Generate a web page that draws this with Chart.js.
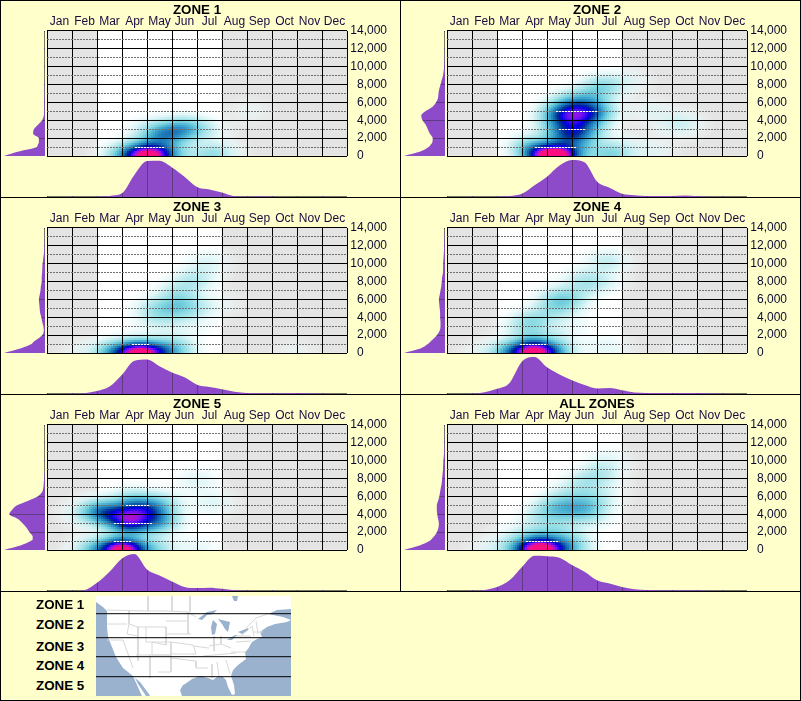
<!DOCTYPE html>
<html>
<head>
<meta charset="utf-8">
<title>Zones</title>
<script src="https://cdn.jsdelivr.net/npm/chart.js@4"></script>
<style>
html, body { margin: 0; padding: 0; background: #FFFFCC; overflow: hidden; }
#page { position: relative; width: 801px; height: 701px; background: #FFFFCC; font-family: "Liberation Sans", Arial, sans-serif; }
canvas { position: absolute; }
.line { position: absolute; background: #000; }
.zonename { position: absolute; left: 36px; font-weight: bold; font-size: 13.33px; line-height: 16px; color: #000; }
</style>
</head>
<body>
<div id="page"></div>
<script>
const months = ["Jan","Feb","Mar","Apr","May","Jun","Jul","Aug","Sep","Oct","Nov","Dec"];
const seasonGray = [14000,14000,null,null,null,null,null,14000,14000,14000,14000,14000];
const seasonWhite = [null,null,14000,14000,14000,14000,14000,null,null,null,null,null];
const zoneTitles = ["ZONE 1","ZONE 2","ZONE 3","ZONE 4","ZONE 5","ALL ZONES"];
const mapLabels = ["ZONE 1","ZONE 2","ZONE 3","ZONE 4","ZONE 5"];

/*------------- sightings: [month, elevation, weight] -------------*/
const samplesZone1 = [[4.05,0,.88],[3.3,0,.25],[4.8,0,.25],[3.0,0,.1],[4.6,2400,.33],[5.4,3000,.32],[6.2,3000,.1],[6.5,0,.18],[3.8,1200,.08],[5.0,1000,.08],[4.7,7000,.02],[8.1,5000,.03],[4,3200,.05],[7,600,.05]];
const samplesZone2 = [[3.9,0,.75],[4.6,0,.75],[5.2,4500,.36],[4.5,4500,.28],[4.6,5000,.13],[5.8,4800,.26],[6,5200,.12],[5.1,2800,.3],[4.4,3000,.15],[5.7,3000,.15],[4.8,2000,.22],[5,6000,.22],[5.7,6500,.15],[6.2,7800,.2],[7.2,8500,.05],[6.5,0,.22],[5.5,1200,.12],[8.2,5000,.05],[9.3,3600,.1],[8.2,500,.05],[3.3,1000,.2],[7,1000,.06]];
const samplesZone3 = [[3.7,0,.88],[2.8,0,.4],[4.5,0,.35],[5.2,300,.15],[1.6,0,.05],[4.7,4800,.1],[5.3,5200,.12],[5.2,6200,.08],[4.2,5000,.08],[5.9,5000,.09],[5.2,7000,.07],[6,8500,.06],[5,3800,.05],[6.4,10200,.07],[5.8,8000,.08],[6.9,5500,.03],[4.2,3500,.05],[9.9,0,.03],[6,3000,.03],[5,1400,.06]];
const samplesZone4 = [[3.45,0,.8],[2.6,0,.35],[4.2,0,.35],[3.4,1200,.15],[3.4,3400,.16],[4.5,5500,.15],[4.9,6200,.12],[5.6,7700,.1],[6.4,10300,.11],[5.9,1000,.02],[6.5,500,.05],[1.5,0,.05],[4.5,1800,.06],[9.5,200,.02],[3,3000,.06],[4,4600,.08],[5,3500,.04],[4.3,6500,.05],[5.4,8500,.06],[6.3,8000,.05]];
const samplesZone5 = [[2.9,0,.87],[3.5,0,.3],[1.9,0,.25],[4.4,100,.15],[3.3,4400,.26],[2.3,4200,.34],[4,4500,.34],[3.4,3000,.46],[2.9,3400,.24],[4.4,3000,.22],[3.4,5700,.15],[4.6,5300,.14],[6,7800,.07],[6.6,5300,.07],[1.5,4000,.08],[6,300,.05],[4.6,3600,.12],[2,4600,.1]];
const samplesAll = [[3.7,0,.83],[3,0,.3],[4.5,0,.35],[5.3,0,.05],[3.7,1200,.15],[1.7,0,.05],[5.3,4500,.2],[4.6,4700,.13],[4.5,3000,.07],[5.6,6000,.09],[5.9,8000,.08],[6.4,10200,.05],[3.5,2700,.06],[6.5,6500,.03],[3.8,4000,.08],[4.7,6000,.08],[5.3,7500,.08],[6.2,8800,.08],[5.8,3500,.06],[4.5,1800,.08],[4.2,4800,.1],[5.9,5000,.1],[5,1000,.1],[2.6,1500,.05]];

/*------------- density by elevation (left strip) -------------*/
const elevations = [0,500,1000,1200,1500,2000,2500,3000,3500,4000,4500,5000,5500,6000,6500,7000,7500,8000,8500,9000,10000,11000,12000,14000];
const elevZone1 = [1,.64,.2,.18,.15,.15,.29,.27,.17,.07,.03,.02,.02,.02,.015,.01,.01,.005,0,0,0,0,0,0];
const elevZone2 = [1,.6,.4,.36,.31,.3,.37,.42,.47,.55,.58,.48,.31,.22,.17,.16,.14,.11,.08,.05,.02,.01,0,0];
const elevZone3 = [1,.6,.33,.29,.2,.07,.03,.04,.07,.09,.12,.13,.14,.15,.13,.11,.1,.08,.08,.07,.06,.03,.01,0];
const elevZone4 = [1,.6,.42,.37,.3,.2,.13,.11,.11,.12,.12,.13,.14,.15,.13,.11,.09,.08,.07,.05,.045,.03,.02,0];
const elevZone5 = [1,.6,.35,.3,.3,.38,.45,.55,.67,.87,.8,.68,.42,.18,.07,.04,.03,.02,.01,0,0,0,0,0];
const elevAll = [1,.62,.38,.33,.27,.2,.16,.15,.17,.19,.2,.2,.17,.14,.12,.1,.08,.07,.06,.05,.04,.02,.01,0];

/*------------- density by month (bottom strip) -------------*/
const monthSteps = [0,.5,1,1.5,2,2.5,3,3.5,4,4.5,5,5.5,6,6.5,7,7.5,8,8.5,9,9.5,10,10.5,11,11.5,12];
const monthZone1 = [0,0,0,0,.005,.03,.1,.6,.97,.98,.8,.55,.27,.2,.12,.02,.01,.02,.01,0,0,0,0,0,0];
const monthZone2 = [0,0,0,0,.005,.03,.09,.32,.55,.85,1,.94,.42,.25,.09,.05,.03,.03,.03,.04,.02,.01,0,0,0];
const monthZone3 = [0,0,.005,.02,.08,.2,.52,.9,.93,.75,.58,.45,.25,.19,.13,.06,.03,.02,.02,.02,.03,.02,.01,0,0];
const monthZone4 = [0,0,.01,.05,.14,.3,.88,1,.72,.53,.37,.24,.15,.16,.1,.04,.03,.03,.03,.03,.03,.02,.01,0,0];
const monthZone5 = [0,0,0,.02,.22,.52,.88,1,.58,.42,.26,.11,.08,.09,.06,.02,.01,0,0,0,0,0,0,0,0];
const monthAll = [0,0,.005,.03,.11,.29,.65,.95,.94,.9,.7,.52,.29,.2,.11,.05,.03,.02,.02,.02,.02,.01,0,0,0];

const samplesByZone = [samplesZone1,samplesZone2,samplesZone3,samplesZone4,samplesZone5,samplesAll];
const elevByZone = [elevZone1,elevZone2,elevZone3,elevZone4,elevZone5,elevAll];
const monthByZone = [monthZone1,monthZone2,monthZone3,monthZone4,monthZone5,monthAll];

/*------------- map, in units of the little map picture -------------*/
const mapLand = [[0,0],[0,6],[7,11],[11,15],[11,23],[11,31],[12,41],[16,51],[20,61],[27,72],[37,80],[41,89],[46,100],[86,100],[84,94],[87,89],[89,88],[96,83],[104,80],[112,82],[117,84],[121,81],[126,80],[130,84],[132,91],[136,99],[139,98],[138,89],[135,80],[137,74],[142,69],[150,63],[149,56],[152,53],[156,46],[161,43],[166,41],[164,36],[171,31],[179,28],[191,26],[195,24],[187,21],[177,19],[172,18],[181,14],[195,13],[195,0],[0,0]];
const mapWater = [
    [[136,0],[142,0],[141,5],[138,5],[136,0]],
    [[102,23],[111,16],[121,14],[117,18],[111,19],[106,24],[102,23]],
    [[117,24],[121,28],[119,38],[116,39],[115,31],[117,24]],
    [[122,23],[134,26],[132,36],[129,33],[126,28],[122,23]],
    [[131,44],[139,39],[141,39],[136,44],[131,44]],
    [[142,36],[152,32],[152,34],[146,38],[142,36]],
    [[39,82],[44,86],[53,98],[54,100],[50,100],[42,88],[39,82]]
];
const mapBorders = [
    [[11,14],[50,15],[70,15],[92,16],[100,21]],
    [[52,0],[52,15]],[[76,0],[76,15]],[[94,0],[94,16]],
    [[11,28],[31,28]],[[33,15],[33,28],[31,38],[42,40]],[[33,28],[42,31],[50,31]],
    [[50,31],[70,31],[70,49],[56,46],[50,46],[50,31]],
    [[56,46],[75,46],[75,59],[56,59],[56,46]],
    [[70,25],[92,25]],[[70,38],[95,38]],[[75,46],[97,49]],[[75,58],[100,58]],[[92,16],[92,38]],
    [[42,31],[42,65]],[[54,59],[54,82]],[[40,59],[75,59]],[[11,44],[27,44],[37,72]],[[75,59],[75,76],[62,76]],
    [[75,62],[100,65],[100,72]],[[97,49],[100,58]],[[97,50],[113,52]],[[100,72],[112,72]],
    [[116,68],[116,82]],[[121,66],[123,80]],[[130,64],[134,78]],[[107,60],[140,57]],
    [[113,50],[125,48],[135,52]],[[135,56],[150,56]],[[118,40],[118,55]],[[125,40],[125,48]],
    [[140,40],[155,40]],[[140,46],[155,45]],[[145,40],[156,30]],[[156,30],[158,40]],[[160,25],[162,38]],[[158,36],[167,36]],
    [[150,32],[160,22],[172,18]]
];
const zoneDividers = [17.7,41.7,60.7,80.7];

/*------------- colors -------------*/
const MORADO = "#8E4BC9";
const colorStops = [
    [0, 255,255,255,0],
    [.03, 235,250,250,.6],
    [.1, 205,240,242,1],
    [.25, 130,215,225,1],
    [.4, 60,165,205,1],
    [.55, 15,100,175,1],
    [.64, 0,40,150,1],
    [.72, 0,0,230,1],
    [.86, 130,20,245,1],
    [1, 250,15,130,1]
];

function colorDe(t){
    if(t >= 1) t = 1;
    for(let i=1; i<colorStops.length; i++){
        if(t <= colorStops[i][0]){
            const a = colorStops[i-1], b = colorStops[i];
            const f = (t-a[0])/(b[0]-a[0]);
            return "rgba(" + Math.round(a[1]+(b[1]-a[1])*f) + "," + Math.round(a[2]+(b[2]-a[2])*f) + "," + Math.round(a[3]+(b[3]-a[3])*f) + "," + (a[4]+(b[4]-a[4])*f) + ")";
        }
    }
}

// each sample spreads through the scales of the chart
function densidadDe(chart){
    const puntos = chart.data.datasets[2].data.map(p => ({
        px: chart.scales.x.getPixelForValue(p.x),
        py: chart.scales.y.getPixelForValue(p.y),
        w: p.w
    }));
    const sx = 14, sy = 8;
    return function(x, y){
        let suma = 0;
        for(const p of puntos){
            const dx = (x-p.px)/sx, dy = (y-p.py)/sy;
            suma += p.w*Math.exp(-.5*(dx*dx+dy*dy));
        }
        return suma;
    };
}

const nubePlugin = {
    id: "nube",
    afterDatasetsDraw(chart){
        const ctx = chart.ctx, area = chart.chartArea;
        const densidad = densidadDe(chart);
        const paso = 2;
        ctx.save();
        ctx.beginPath();
        ctx.rect(area.left, area.top, area.right-area.left, area.bottom-area.top);
        ctx.clip();
        for(let x=area.left; x<area.right; x+=paso){
            for(let y=area.top; y<area.bottom; y+=paso){
                const suma = densidad(x+1, y+1);
                if(suma < .004) continue;
                ctx.fillStyle = colorDe(suma);
                ctx.fillRect(x, y, paso, paso);
            }
        }
        ctx.restore();
    },
    // the dotted lines turn white over the dark part of the cloud
    afterDraw(chart){
        const ctx = chart.ctx, area = chart.chartArea;
        const densidad = densidadDe(chart);
        ctx.save();
        ctx.fillStyle = "#FFFFFF";
        for(let e=1000; e<14000; e+=2000){
            const yLinea = Math.round(chart.scales.y.getPixelForValue(e));
            for(let x=area.left+1; x<area.right-1; x+=3){
                if(densidad(x+1, yLinea) > .55) ctx.fillRect(x, yLinea, 2, 1);
            }
        }
        ctx.restore();
    }
};

// grid lines of the strips only show on top of the purple
const soloMoradoPlugin = {
    id: "soloMorado",
    afterDatasetsDraw(chart){ chart.ctx.globalCompositeOperation = "source-atop"; },
    afterDraw(chart){ chart.ctx.globalCompositeOperation = "source-over"; }
};

const page = document.getElementById("page");

function nuevoCanvas(left, top, w, h){
    const c = document.createElement("canvas");
    c.width = w; c.height = h;
    c.style.left = left+"px"; c.style.top = top+"px";
    c.style.width = w+"px"; c.style.height = h+"px";
    page.appendChild(c);
    return c;
}

function linea(left, top, w, h){
    const d = document.createElement("div");
    d.className = "line";
    d.style.cssText = "left:"+left+"px;top:"+top+"px;width:"+w+"px;height:"+h+"px";
    page.appendChild(d);
}

function graficaNube(px, py, i){
    new Chart(nuevoCanvas(px, py, 400, 164), {
        type: "bar",
        plugins: [nubePlugin],
        data: {
            labels: months,
            datasets: [
                { type: "bar", data: seasonGray, xAxisID: "months", yAxisID: "y", backgroundColor: "#E4E4E4", barPercentage: 1, categoryPercentage: 1, grouped: false },
                { type: "bar", data: seasonWhite, xAxisID: "months", yAxisID: "y", backgroundColor: "#FFFFFF", barPercentage: 1, categoryPercentage: 1, grouped: false },
                { type: "scatter", data: samplesByZone[i].map(s => ({x: s[0], y: s[1], w: s[2]})), xAxisID: "x", yAxisID: "y", pointRadius: 0 }
            ]
        },
        options: {
            responsive: false,
            animation: false,
            events: [],
            layout: { padding: { left: 47, right: 13, top: 0, bottom: 8 } },
            plugins: {
                legend: { display: false },
                tooltip: { enabled: false },
                title: { display: true, fullSize: false, text: zoneTitles[i], color: "#000", padding: { top: 2, bottom: -6 },
                    font: { family: "Liberation Sans", size: 13.33, weight: "bold", lineHeight: 1.2 } }
            },
            scales: {
                months: {
                    type: "category", position: "top", offset: true,
                    grid: { display: false, drawTicks: false }, border: { display: false },
                    ticks: { color: "#1a0a40", padding: 2, autoSkip: false, maxRotation: 0, font: { family: "Liberation Sans", size: 12 } },
                    afterFit(s){ s.height = 19; }
                },
                x: {
                    type: "linear", position: "bottom", min: 0, max: 12, offset: false,
                    grid: { color: "#000", z: 1, drawTicks: false, offset: false },
                    border: { display: false },
                    ticks: { display: false, stepSize: 1, autoSkip: false },
                    afterFit(s){ s.height = 0; }
                },
                y: {
                    type: "linear", position: "right", min: 0, max: 14000,
                    grid: { color: c => c.tick && c.tick.value % 2000 ? "#707070" : "#000", z: 1, drawTicks: false },
                    border: { display: false, dash: c => c.tick && c.tick.value % 2000 ? [2,1] : [] },
                    ticks: {
                        stepSize: 1000, autoSkip: false, color: "#0a0a30", padding: 3, crossAlign: "far",
                        font: { family: "Liberation Sans", size: 12 },
                        callback(v){
                            if(v % 2000) return "";
                            if(v === 0) return "0       ";
                            return v.toLocaleString("en-US");
                        }
                    },
                    afterFit(s){ s.width = 40; s.paddingTop = 0; s.paddingBottom = 0; }
                }
            }
        }
    });
}

function graficaIzquierda(px, py, i){
    new Chart(nuevoCanvas(px, py+28, 47, 131), {
        type: "line",
        plugins: [soloMoradoPlugin],
        data: {
            datasets: [{
                data: elevations.map((e, k) => ({x: elevByZone[i][k], y: e})),
                indexAxis: "y", fill: "origin", backgroundColor: MORADO, borderWidth: 0, pointRadius: 0,
                cubicInterpolationMode: "monotone"
            }, {
                data: [{x: 0, y: 0}, {x: 0, y: 14000}],
                indexAxis: "y", borderColor: "#777766", borderWidth: 2, pointRadius: 0
            }]
        },
        options: {
            responsive: false, animation: false, events: [], indexAxis: "y",
            layout: { padding: { left: 4, right: 2, top: 3, bottom: 3 } },
            plugins: { legend: { display: false }, tooltip: { enabled: false } },
            scales: {
                x: { type: "linear", display: false, reverse: true, min: 0, max: 1 },
                y: {
                    type: "linear", position: "right", min: 0, max: 14000,
                    grid: { color: "#5E3A80", z: 1, drawTicks: false },
                    border: { display: false },
                    ticks: { display: false, stepSize: 2000 }
                }
            }
        }
    });
}

function graficaAbajo(px, py, i){
    new Chart(nuevoCanvas(px+45, py+157, 304, 41), {
        type: "line",
        plugins: [soloMoradoPlugin],
        data: {
            datasets: [{
                data: monthSteps.map((m, k) => ({x: m, y: monthByZone[i][k]})),
                fill: "origin", backgroundColor: MORADO, borderWidth: 0, pointRadius: 0,
                cubicInterpolationMode: "monotone"
            }, {
                data: [{x: 0, y: 0}, {x: 12, y: 0}],
                borderColor: "#777766", borderWidth: 2, pointRadius: 0
            }]
        },
        options: {
            responsive: false, animation: false, events: [],
            layout: { padding: { left: 2, right: 2, top: 3, bottom: 1 } },
            plugins: { legend: { display: false }, tooltip: { enabled: false } },
            scales: {
                y: { type: "linear", display: false, min: 0, max: 1 },
                x: {
                    type: "linear", position: "bottom", min: 0, max: 12,
                    grid: { color: "#5E3A80", z: 1, drawTicks: false },
                    border: { display: false },
                    ticks: { display: false, stepSize: 1 }
                }
            }
        }
    });
}

function graficaMapa(){
    const xy = lista => lista.map(p => ({x: p[0], y: p[1]}));
    const conjuntos = [{ data: xy(mapLand), showLine: true, fill: "shape", backgroundColor: "#FFFFFF", borderWidth: 0, pointRadius: 0, order: 4 }];
    mapBorders.forEach(b => conjuntos.push({ data: xy(b), showLine: true, borderColor: "#D8D8D8", borderWidth: 1, pointRadius: 0, order: 3 }));
    mapWater.forEach(w => conjuntos.push({ data: xy(w), showLine: true, fill: "shape", backgroundColor: "#9AB2CE", borderWidth: 0, pointRadius: 0, order: 2 }));
    zoneDividers.forEach(v => conjuntos.push({ data: [{x: 0, y: v}, {x: 195, y: v}], showLine: true, borderColor: "#000", borderWidth: 1, pointRadius: 0, order: 1 }));
    const c = nuevoCanvas(96, 596, 195, 100);
    c.style.background = "#9AB2CE";
    new Chart(c, {
        type: "scatter",
        data: { datasets: conjuntos },
        options: {
            responsive: false, animation: false, events: [],
            plugins: { legend: { display: false }, tooltip: { enabled: false } },
            scales: {
                x: { type: "linear", display: false, min: 0, max: 195 },
                y: { type: "linear", display: false, min: 0, max: 100, reverse: true }
            }
        }
    });
}

zoneTitles.forEach((t, i) => {
    const px = i % 2 ? 400 : 0;
    const py = Math.floor(i/2)*197;
    graficaNube(px, py, i);
    graficaIzquierda(px, py, i);
    graficaAbajo(px, py, i);
});
graficaMapa();

/*-------------------------frames and map labels-------------------------*/
linea(0,0,801,1); linea(0,700,801,1); linea(0,0,1,701); linea(800,0,1,701);
linea(0,197,801,1); linea(0,394,801,1); linea(0,591,801,1); linea(400,0,1,591);

const mapLabelTops = [597,617,639,658,678];
mapLabels.forEach((t, i) => {
    const d = document.createElement("div");
    d.className = "zonename";
    d.style.top = mapLabelTops[i]+"px";
    d.textContent = t;
    page.appendChild(d);
});
</script>
</body>
</html>
